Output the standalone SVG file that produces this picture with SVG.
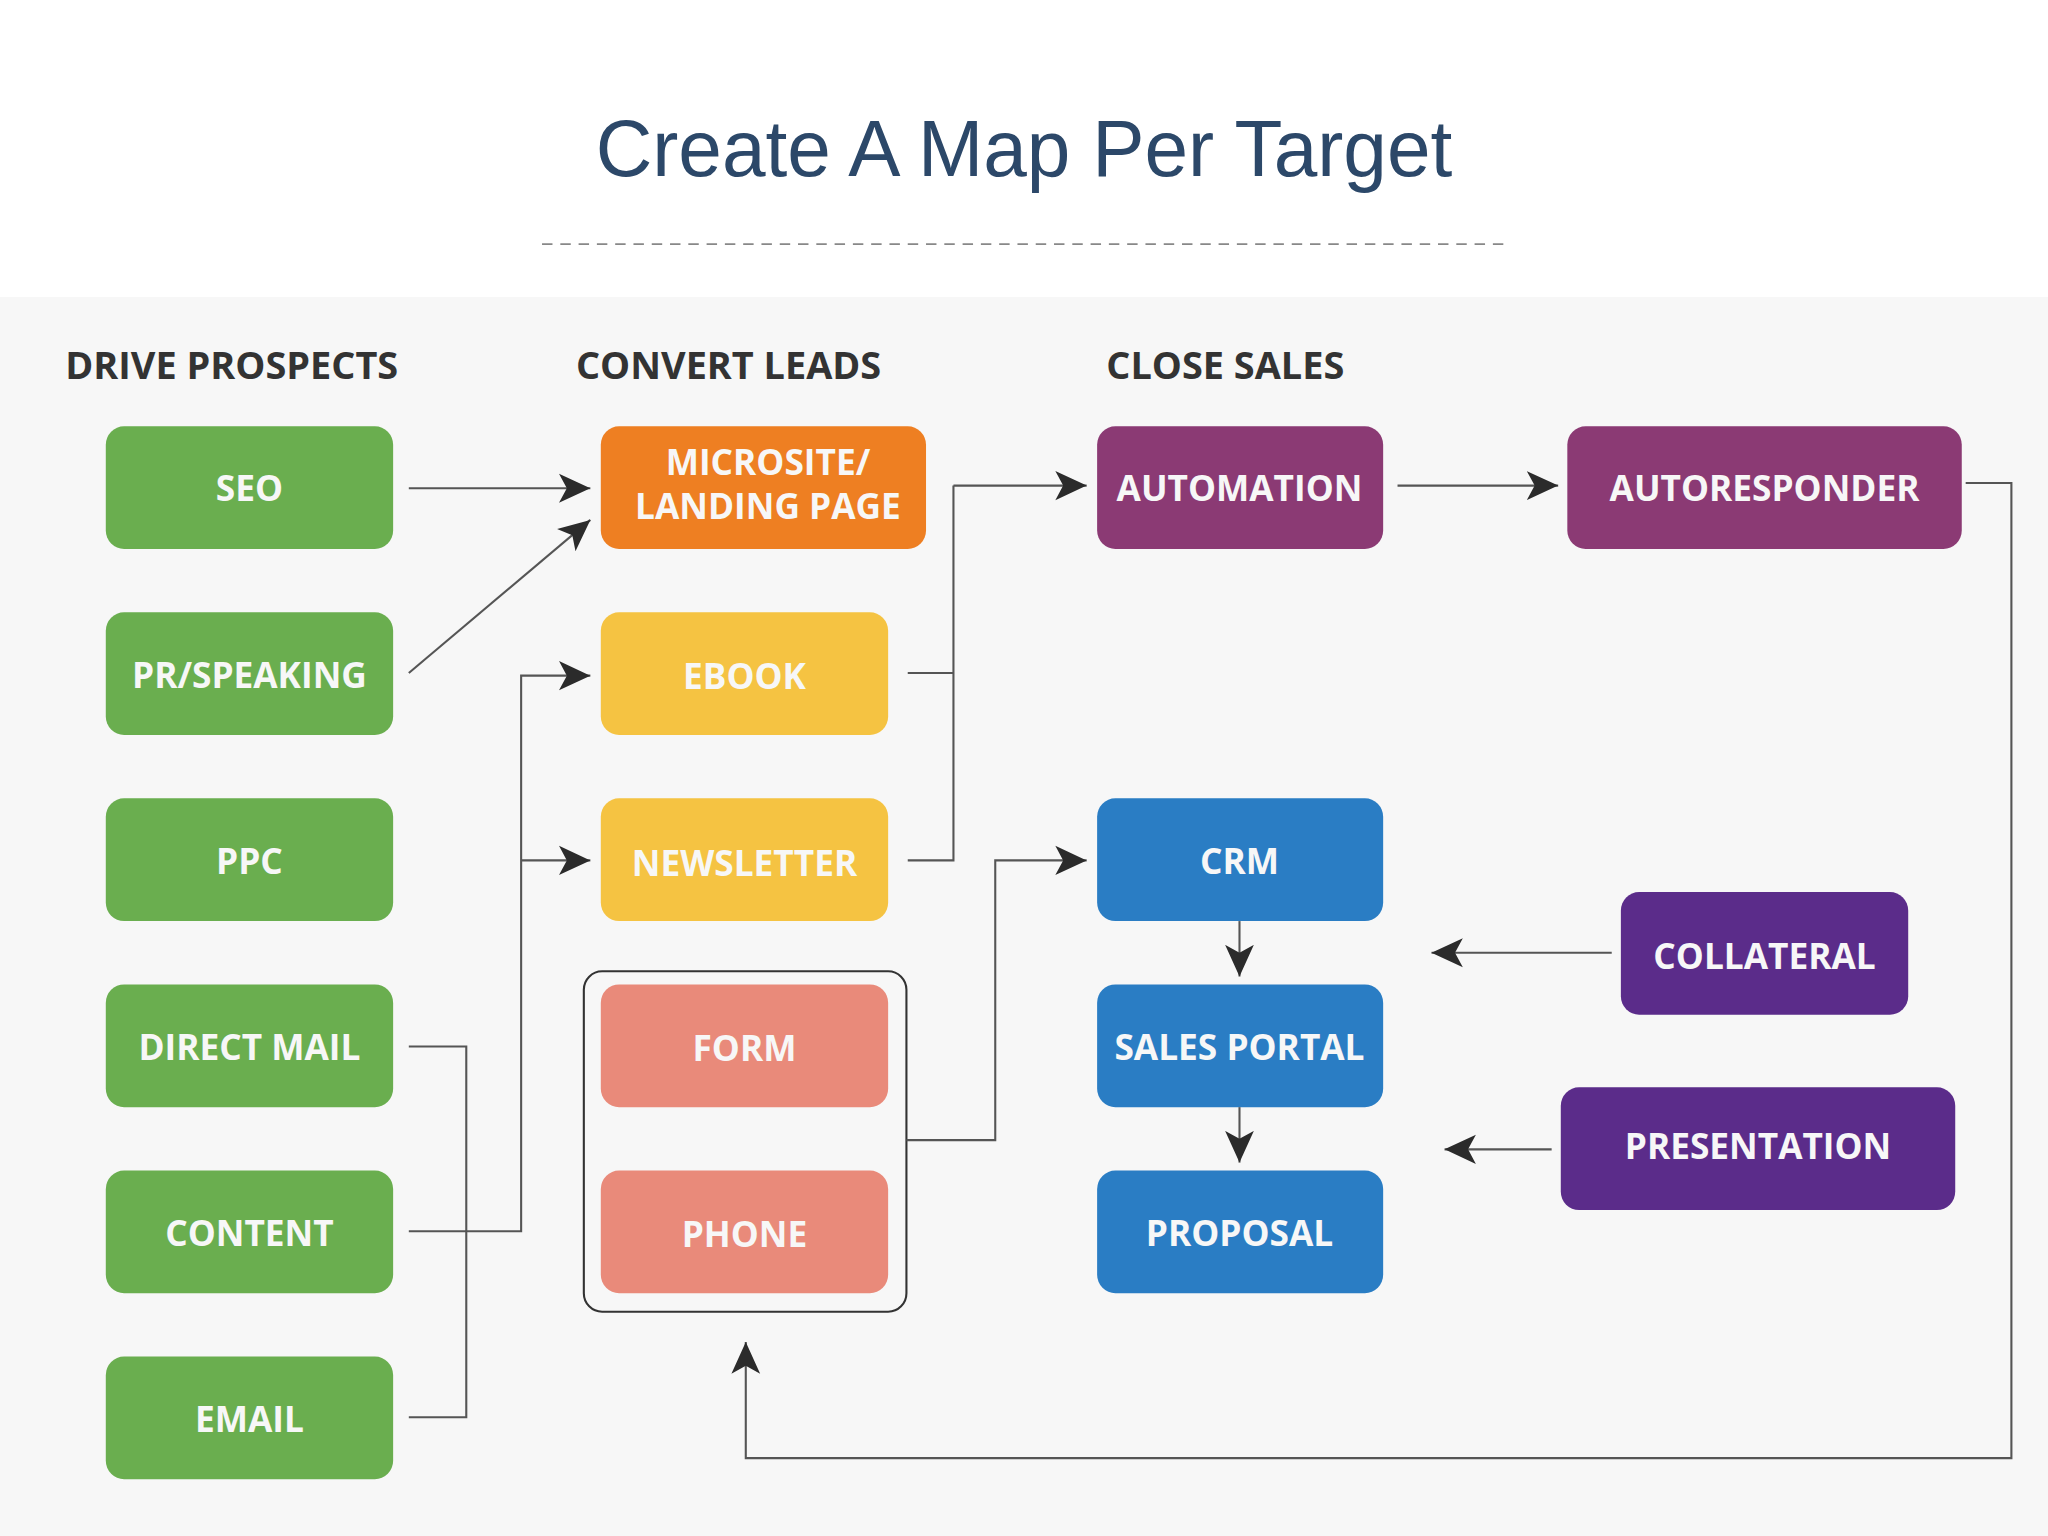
<svg xmlns="http://www.w3.org/2000/svg" width="2048" height="1536" viewBox="0 0 2048 1536">
<defs>
<marker id="ah" markerUnits="userSpaceOnUse" markerWidth="26" markerHeight="24" refX="24" refY="12" orient="auto"><path d="M0,1 L24,12 L0,23 L6,12 Z" fill="#2b2b2b"/></marker>
</defs>
<style>
.b text{font-family:"Open Sans","Liberation Sans",sans-serif;font-weight:700;font-size:27px;fill:#f7f7f7;text-anchor:middle}
.h{font-family:"Open Sans","Liberation Sans",sans-serif;font-weight:700;font-size:29px;fill:#333}
.c path,.c line{fill:none;stroke:#555;stroke-width:1.6}
.a{marker-end:url(#ah)}
</style>
<rect width="2048" height="1536" fill="#fff"/>
<g transform="scale(1.3061,1.3196)">
<rect x="0" y="225" width="1568" height="940" fill="#f7f7f7"/>
<text x="784" y="133" font-family="Liberation Sans, Arial, sans-serif" font-size="60" fill="#2c4869" text-anchor="middle">Create A Map Per Target</text>
<line x1="415" y1="185" x2="1155" y2="185" stroke="#888" stroke-width="1.5" stroke-dasharray="8,6"/>
<text class="h" x="50" y="287">DRIVE PROSPECTS</text>
<text class="h" x="441" y="287">CONVERT LEADS</text>
<text class="h" x="847" y="287">CLOSE SALES</text>
<rect id="group-frame" x="447" y="736" width="247" height="258" rx="14" fill="none" stroke="#333" stroke-width="1.6"/>
<g class="b">
<g id="seo"><rect x="81" y="323" width="220" height="93" rx="14" fill="#6aae4f"/><text x="191" y="380">SEO</text></g>
<g id="pr"><rect x="81" y="464" width="220" height="93" rx="14" fill="#6aae4f"/><text x="191" y="521">PR/SPEAKING</text></g>
<g id="ppc"><rect x="81" y="605" width="220" height="93" rx="14" fill="#6aae4f"/><text x="191" y="662">PPC</text></g>
<g id="directmail"><rect x="81" y="746" width="220" height="93" rx="14" fill="#6aae4f"/><text x="191" y="803">DIRECT MAIL</text></g>
<g id="content"><rect x="81" y="887" width="220" height="93" rx="14" fill="#6aae4f"/><text x="191" y="944">CONTENT</text></g>
<g id="email"><rect x="81" y="1028" width="220" height="93" rx="14" fill="#6aae4f"/><text x="191" y="1085">EMAIL</text></g>
<g id="microsite"><rect x="460" y="323" width="249" height="93" rx="14" fill="#ee7f22"/><text x="588" y="360">MICROSITE/</text><text x="588" y="393">LANDING PAGE</text></g>
<g id="ebook"><rect x="460" y="464" width="220" height="93" rx="14" fill="#f5c342"/><text x="570" y="522">EBOOK</text></g>
<g id="newsletter"><rect x="460" y="605" width="220" height="93" rx="14" fill="#f5c342"/><text x="570" y="664">NEWSLETTER</text></g>
<g id="form"><rect x="460" y="746" width="220" height="93" rx="14" fill="#e98a7a"/><text x="570" y="804">FORM</text></g>
<g id="phone"><rect x="460" y="887" width="220" height="93" rx="14" fill="#e98a7a"/><text x="570" y="945">PHONE</text></g>
<g id="automation"><rect x="840" y="323" width="219" height="93" rx="14" fill="#8b3a74"/><text x="949" y="380">AUTOMATION</text></g>
<g id="autoresponder"><rect x="1200" y="323" width="302" height="93" rx="14" fill="#8b3a74"/><text x="1351" y="380">AUTORESPONDER</text></g>
<g id="crm"><rect x="840" y="605" width="219" height="93" rx="14" fill="#2a7dc4"/><text x="949" y="662">CRM</text></g>
<g id="salesportal"><rect x="840" y="746" width="219" height="93" rx="14" fill="#2a7dc4"/><text x="949" y="803">SALES PORTAL</text></g>
<g id="proposal"><rect x="840" y="887" width="219" height="93" rx="14" fill="#2a7dc4"/><text x="949" y="944">PROPOSAL</text></g>
<g id="collateral"><rect x="1241" y="676" width="220" height="93" rx="14" fill="#5b2c8a"/><text x="1351" y="734">COLLATERAL</text></g>
<g id="presentation"><rect x="1195" y="824" width="302" height="93" rx="14" fill="#5b2c8a"/><text x="1346" y="878">PRESENTATION</text></g>
</g>
<g id="connectors" class="c">
<line class="a" x1="313" y1="370" x2="452" y2="370"/>
<line class="a" x1="313" y1="510" x2="452" y2="394"/>
<path class="a" d="M313,933 H399 V512 H452"/>
<path class="a" d="M399,652 H452"/>
<path d="M313,793 H357 V1074 H313"/>
<path d="M695,510 H730 M695,652 H730 V368"/>
<path class="a" d="M730,368 H832"/>
<line class="a" x1="1070" y1="368" x2="1193" y2="368"/>
<path class="a" d="M1505,366 H1540 V1105 H571 V1017"/>
<path class="a" d="M694,864 H762 V652 H832"/>
<line class="a" x1="949" y1="698" x2="949" y2="740"/>
<line class="a" x1="949" y1="839" x2="949" y2="881"/>
<line class="a" x1="1234" y1="722" x2="1096" y2="722"/>
<line class="a" x1="1188" y1="871" x2="1106" y2="871"/>
</g>
</g>
</svg>
